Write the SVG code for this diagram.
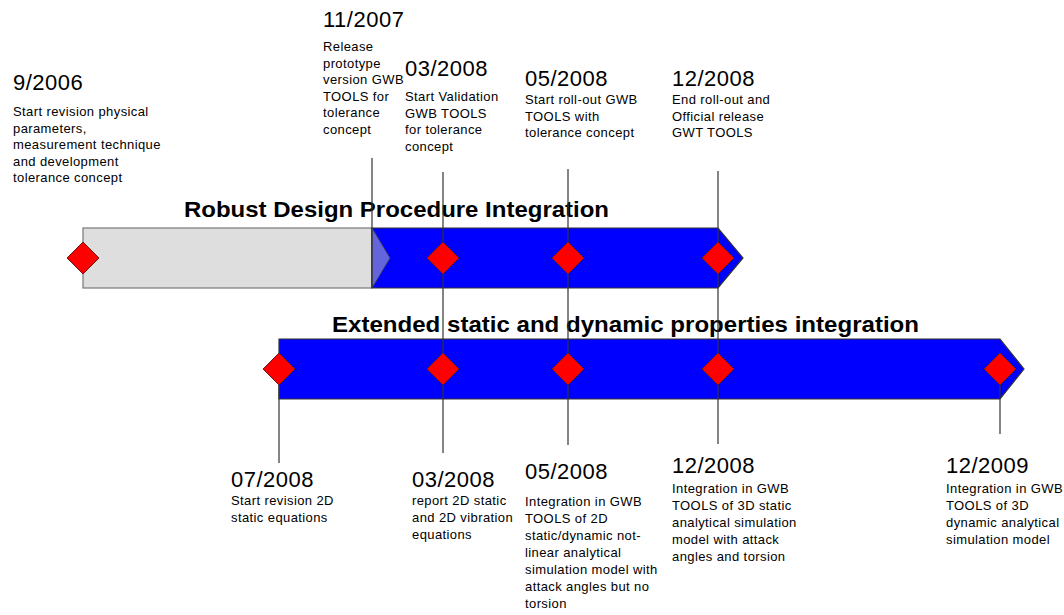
<svg xmlns="http://www.w3.org/2000/svg" width="1064" height="615" viewBox="0 0 1064 615">
  <style>
    .date { font-family: "Liberation Sans", Arial, sans-serif; font-size: 22px; letter-spacing: 0.5px; fill: #000; }
    .desc { font-family: "Liberation Sans", Arial, sans-serif; font-size: 13px; letter-spacing: 0.4px; fill: #000; }
    .title { font-family: "Liberation Sans", Arial, sans-serif; font-size: 22px; font-weight: bold; fill: #000; }
    .tick { stroke: #333; stroke-width: 1.2; fill: none; }
    .milestone { fill: #ff0000; stroke: #6b1a1a; stroke-width: 1; }
    .bar-blue { fill: #0000ff; stroke: #333; stroke-width: 1.2; }
  </style>
  <defs>
    <polygon id="diamond" class="milestone" points="0,-16 16,0 0,16 -16,0"/>
  </defs>
  <rect width="1064" height="615" fill="#fff"/>

  <!-- Phase bar 1 -->
  <g id="bar-robust-design">
    <rect x="83" y="228" width="289" height="60" fill="#dedede" stroke="#777" stroke-width="1.2"/>
    <polygon class="bar-blue" points="372,228 718,228 743,258 718,288 372,288"/>
    <polygon points="372,228 390,258 372,288" fill="#6464dc" stroke="#444" stroke-width="0.8"/>
    <text class="title" x="184" y="217" textLength="425" lengthAdjust="spacingAndGlyphs">Robust Design Procedure Integration</text>
  </g>

  <!-- Phase bar 2 -->
  <g id="bar-extended-properties">
    <polygon class="bar-blue" points="279,339 1000,339 1024,369 1000,399 279,399"/>
    <text class="title" x="332" y="332" textLength="587" lengthAdjust="spacingAndGlyphs">Extended static and dynamic properties integration</text>
  </g>

  <!-- Leader lines -->
  <g id="connectors">
    <line class="tick" x1="372" y1="158" x2="372" y2="288"/>
    <line class="tick" x1="443" y1="172" x2="443" y2="453"/>
    <line class="tick" x1="568" y1="169" x2="568" y2="445"/>
    <line class="tick" x1="718" y1="171" x2="718" y2="444"/>
    <line class="tick" x1="279" y1="369" x2="279" y2="463"/>
    <line class="tick" x1="1000" y1="369" x2="1000" y2="434"/>
  </g>

  <!-- Milestones on bar 1 -->
  <g id="m-2006-09"><use href="#diamond" x="83" y="258"/>
    <text class="date" x="13" y="90">9/2006</text>
    <text class="desc"><tspan x="13" y="116">Start revision physical</tspan><tspan x="13" y="132.5">parameters,</tspan><tspan x="13" y="149">measurement technique</tspan><tspan x="13" y="165.5">and development</tspan><tspan x="13" y="182">tolerance concept</tspan></text>
  </g>
  <g id="m-2007-11">
    <text class="date" x="323" y="27">11/2007</text>
    <text class="desc"><tspan x="323" y="51">Release</tspan><tspan x="323" y="67.5">prototype</tspan><tspan x="323" y="84">version GWB</tspan><tspan x="323" y="100.5">TOOLS for</tspan><tspan x="323" y="117">tolerance</tspan><tspan x="323" y="133.5">concept</tspan></text>
  </g>
  <g id="m-2008-03-validation"><use href="#diamond" x="443" y="258"/>
    <text class="date" x="405" y="76">03/2008</text>
    <text class="desc"><tspan x="405" y="101">Start Validation</tspan><tspan x="405" y="117.5">GWB TOOLS</tspan><tspan x="405" y="134">for tolerance</tspan><tspan x="405" y="150.5">concept</tspan></text>
  </g>
  <g id="m-2008-05-rollout"><use href="#diamond" x="568" y="258"/>
    <text class="date" x="525" y="86">05/2008</text>
    <text class="desc"><tspan x="525" y="104">Start roll-out GWB</tspan><tspan x="525" y="120.5">TOOLS with</tspan><tspan x="525" y="137">tolerance concept</tspan></text>
  </g>
  <g id="m-2008-12-release"><use href="#diamond" x="718" y="258"/>
    <text class="date" x="672" y="86">12/2008</text>
    <text class="desc"><tspan x="672" y="104">End roll-out and</tspan><tspan x="672" y="120.5">Official release</tspan><tspan x="672" y="137">GWT TOOLS</tspan></text>
  </g>

  <!-- Milestones on bar 2 -->
  <g id="m-2008-07"><use href="#diamond" x="279" y="369"/>
    <text class="date" x="231" y="487">07/2008</text>
    <text class="desc"><tspan x="231" y="505">Start revision 2D</tspan><tspan x="231" y="522">static equations</tspan></text>
  </g>
  <g id="m-2008-03-report"><use href="#diamond" x="443" y="369"/>
    <text class="date" x="412" y="487">03/2008</text>
    <text class="desc"><tspan x="412" y="505">report 2D static</tspan><tspan x="412" y="522">and 2D vibration</tspan><tspan x="412" y="539">equations</tspan></text>
  </g>
  <g id="m-2008-05-2d"><use href="#diamond" x="568" y="369"/>
    <text class="date" x="525" y="479">05/2008</text>
    <text class="desc"><tspan x="525" y="506">Integration in GWB</tspan><tspan x="525" y="523">TOOLS of 2D</tspan><tspan x="525" y="540">static/dynamic not-</tspan><tspan x="525" y="557">linear analytical</tspan><tspan x="525" y="574">simulation model with</tspan><tspan x="525" y="591">attack angles but no</tspan><tspan x="525" y="608">torsion</tspan></text>
  </g>
  <g id="m-2008-12-3d-static"><use href="#diamond" x="718" y="369"/>
    <text class="date" x="672" y="473">12/2008</text>
    <text class="desc"><tspan x="672" y="493">Integration in GWB</tspan><tspan x="672" y="510">TOOLS of 3D static</tspan><tspan x="672" y="527">analytical simulation</tspan><tspan x="672" y="544">model with attack</tspan><tspan x="672" y="561">angles and torsion</tspan></text>
  </g>
  <g id="m-2009-12-3d-dynamic"><use href="#diamond" x="1000" y="369"/>
    <text class="date" x="946" y="473">12/2009</text>
    <text class="desc"><tspan x="946" y="493">Integration in GWB</tspan><tspan x="946" y="510">TOOLS of 3D</tspan><tspan x="946" y="527">dynamic analytical</tspan><tspan x="946" y="544">simulation model</tspan></text>
  </g>
</svg>
